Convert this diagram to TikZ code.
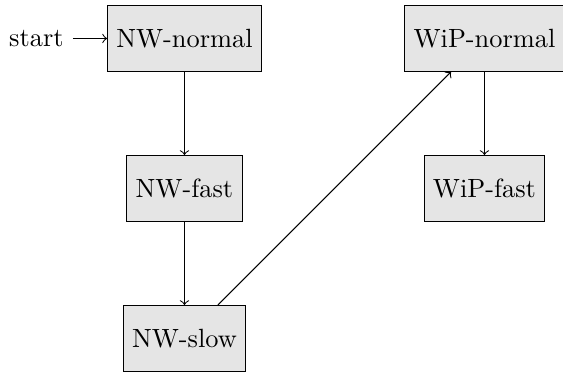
\documentclass[tikz,border=0pt]{standalone}
\usetikzlibrary{automata}
\begin{document}
\begin{tikzpicture}[->, every state/.style={rectangle, fill=gray!20}]

    \useasboundingbox (-2.46,-4.5) rectangle (5.047,0.513);

    % network states
    \node[state, initial] (nwnormal) at (0,0) {NW-normal};
    \node[state] (nwfast) at (0,-2) {NW-fast};
    \node[state] (nwslow) at (0,-4) {NW-slow};

    % work in progress states
    \node[state] (wipnormal) at (4,0) {WiP-normal};
    \node[state] (wipfast) at (4,-2) {WiP-fast};

    \draw (nwnormal) -- (nwfast);
    \draw (nwfast) -- (nwslow);
    \draw (nwslow) -- (wipnormal);
    \draw (wipnormal) -- (wipfast);

\end{tikzpicture}
\end{document}
